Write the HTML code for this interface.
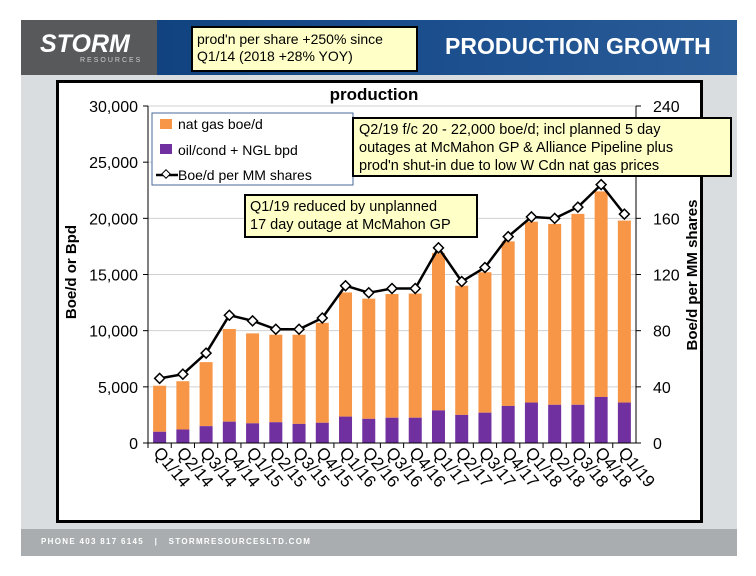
<!DOCTYPE html>
<html><head><meta charset="utf-8">
<style>
body{margin:0;width:756px;height:576px;background:#fff;font-family:"Liberation Sans",sans-serif;overflow:hidden;position:relative}
.abs{position:absolute}
.note{position:absolute;background:#ffffc8;border:2px solid #000;font-family:"Liberation Sans",sans-serif;color:#000;box-sizing:border-box;white-space:nowrap}
</style></head><body>
<div class="abs" style="left:21px;top:20px;width:716px;height:536px;background:#dadddf"></div>
<div class="abs" style="left:21px;top:20px;width:716px;height:55px;background:linear-gradient(90deg,#0d3d7a,#1c4f8e 60%,#2a5c98)"></div>
<div class="abs" style="left:21px;top:20px;width:136px;height:55px;background:#58595b"></div>
<div class="abs" style="left:40px;top:30px;color:#fff;font-weight:bold;font-style:italic;font-size:25px;letter-spacing:0px">STORM</div>
<div class="abs" style="left:80px;top:57px;color:#ccc;font-size:7px;letter-spacing:2px">RESOURCES</div>
<div class="abs" style="left:445px;top:33px;color:#fff;font-weight:bold;font-size:23px">PRODUCTION GROWTH</div>
<div class="note" style="left:191px;top:26px;width:227px;height:46px;font-size:14px;line-height:17px;padding:3px 4px">prod'n per share +250% since<br>Q1/14 (2018 +28% YOY)</div>
<div class="abs" style="left:21px;top:529px;width:716px;height:27px;background:#a9adb0"></div>
<div class="abs" style="left:41px;top:537px;color:#fff;font-size:8px;letter-spacing:1.3px;font-weight:bold">PHONE 403 817 6145 &nbsp;&nbsp;|&nbsp;&nbsp; STORMRESOURCESLTD.COM</div>
<div class="abs" style="left:56px;top:80px;width:647px;height:443px;background:#fff;border:3px solid #000;box-sizing:border-box"></div>
<svg class="abs" style="left:0;top:0" width="756" height="576" font-family="Liberation Sans, sans-serif">
<g id="grid"></g><g id="bars"></g><g id="axes"></g><g id="line"></g>
<text x="374" y="100" font-size="17" font-weight="bold" text-anchor="middle">production</text>
<text transform="translate(76,272) rotate(-90)" font-size="15" font-weight="bold" text-anchor="middle">Boe/d or Bpd</text>
<text transform="translate(697,275) rotate(-90)" font-size="15" font-weight="bold" text-anchor="middle">Boe/d per MM shares</text>
<g>
<rect x="152" y="113" width="201" height="72" fill="#fff" stroke="#4a6a9a" stroke-width="1"/>
<rect x="160" y="119" width="12" height="10" fill="#f79646"/>
<text x="178" y="129" font-size="14">nat gas boe/d</text>
<rect x="160" y="144" width="12" height="10" fill="#7030a0"/>
<text x="178" y="155" font-size="14">oil/cond + NGL bpd</text>
<line x1="156" y1="175" x2="178" y2="175" stroke="#000" stroke-width="2.5"/>
<rect x="163" y="171" width="6" height="6" fill="#fff" stroke="#000" transform="rotate(45 166 174)"/>
<text x="178" y="180" font-size="14">Boe/d per MM shares</text>
</g>
</svg>
<div class="note" style="left:352px;top:117px;width:380px;height:60px;font-size:14.5px;line-height:18px;padding:2px 5px">Q2/19 f/c 20 - 22,000 boe/d; incl planned 5 day<br>outages at McMahon GP &amp; Alliance Pipeline plus<br>prod'n shut-in due to low W Cdn nat gas prices</div>
<div class="note" style="left:244px;top:194px;width:234px;height:44px;font-size:14.5px;line-height:18px;padding:2px 4px">Q1/19 reduced by unplanned<br>17 day outage at McMahon GP</div>
<script>
const categories=["Q1/14","Q2/14","Q3/14","Q4/14","Q1/15","Q2/15","Q3/15","Q4/15","Q1/16","Q2/16","Q3/16","Q4/16","Q1/17","Q2/17","Q3/17","Q4/17","Q1/18","Q2/18","Q3/18","Q4/18","Q1/19"];
const totalProd=[5100,5500,7200,10150,9760,9640,9640,10700,13400,12850,13260,13300,16900,14000,15200,17950,19700,19500,20400,22400,19800];
const oilProd=[1000,1200,1500,1900,1750,1850,1700,1800,2350,2150,2250,2250,2900,2500,2700,3300,3600,3400,3400,4100,3600];
const perShare=[46,49,64,91,87,81,81,89,112,107,110,110,139,115,125,147,161,160,168,184,163];
const leftTicks=[0,5000,10000,15000,20000,25000,30000];
const rightTicks=[0,40,80,120,160,200,240];
const NS="http://www.w3.org/2000/svg";
const X0=148,X1=636,Y0=443,Y1=106;
const yL=v=>Y0-(v/30000)*(Y0-Y1);
const yR=v=>Y0-(v/240)*(Y0-Y1);
const step=(X1-X0)/categories.length;
const xC=i=>X0+step*(i+0.5);
function mk(tag,attrs,parent){const e=document.createElementNS(NS,tag);for(const k in attrs)e.setAttribute(k,attrs[k]);parent.appendChild(e);return e;}
const grid=document.getElementById('grid'),bars=document.getElementById('bars'),axes=document.getElementById('axes'),line=document.getElementById('line');
leftTicks.forEach((t,i)=>{
  const g=mk('line',{x1:X0,x2:X1,y1:yL(t),y2:yL(t),stroke:'#d0d0d0','stroke-width':1},grid);
  
  
  const lt=mk('text',{x:X0-10,y:yL(t)+6,'font-size':16,'text-anchor':'end'},axes);lt.textContent=t.toLocaleString('en-US');
  
  
  mk('line',{x1:X0-5,x2:X0,y1:yL(t),y2:yL(t),stroke:'#000'},axes);
});
rightTicks.forEach(t=>{
  const rt=mk('text',{x:X1+17,y:yR(t)+6,'font-size':16},axes);rt.textContent=t;
  
  
  mk('line',{x1:X1,x2:X1+5,y1:yR(t),y2:yR(t),stroke:'#000'},axes);
});
mk('line',{x1:X0,x2:X0,y1:Y1,y2:Y0,stroke:'#000'},axes);
mk('line',{x1:X1,x2:X1,y1:Y1,y2:Y0,stroke:'#000'},axes);
mk('line',{x1:X0,x2:X1,y1:Y0,y2:Y0,stroke:'#000'},axes);
const bw=13;
categories.forEach((c,i)=>{
  const x=xC(i)-bw/2;
  const g=mk('rect',{x:x,y:yL(totalProd[i]),width:bw,height:yL(oilProd[i])-yL(totalProd[i]),fill:'#f79646'},bars);
  
  
  const o=mk('rect',{x:x,y:yL(oilProd[i]),width:bw,height:Y0-yL(oilProd[i]),fill:'#7030a0'},bars);
  
  
  mk('line',{x1:X0+step*i,x2:X0+step*i,y1:Y0,y2:Y0+5,stroke:'#000'},axes);
  const lab=mk('text',{x:0,y:0,'font-size':17,transform:`translate(${xC(i)-7},${Y0+10}) rotate(50)`},axes);
  lab.textContent=c;
  
  
});
const pts=perShare.map((v,i)=>xC(i)+','+yR(v)).join(' ');
const pl=mk('polyline',{points:pts,fill:'none',stroke:'#000','stroke-width':2.5},line);


perShare.forEach((v,i)=>{
  const m=mk('rect',{x:xC(i)-3.5,y:yR(v)-3.5,width:7,height:7,fill:'#fff',stroke:'#000','stroke-width':1.5,transform:`rotate(45 ${xC(i)} ${yR(v)})`},line);
  
  
});
</script>
</body></html>
